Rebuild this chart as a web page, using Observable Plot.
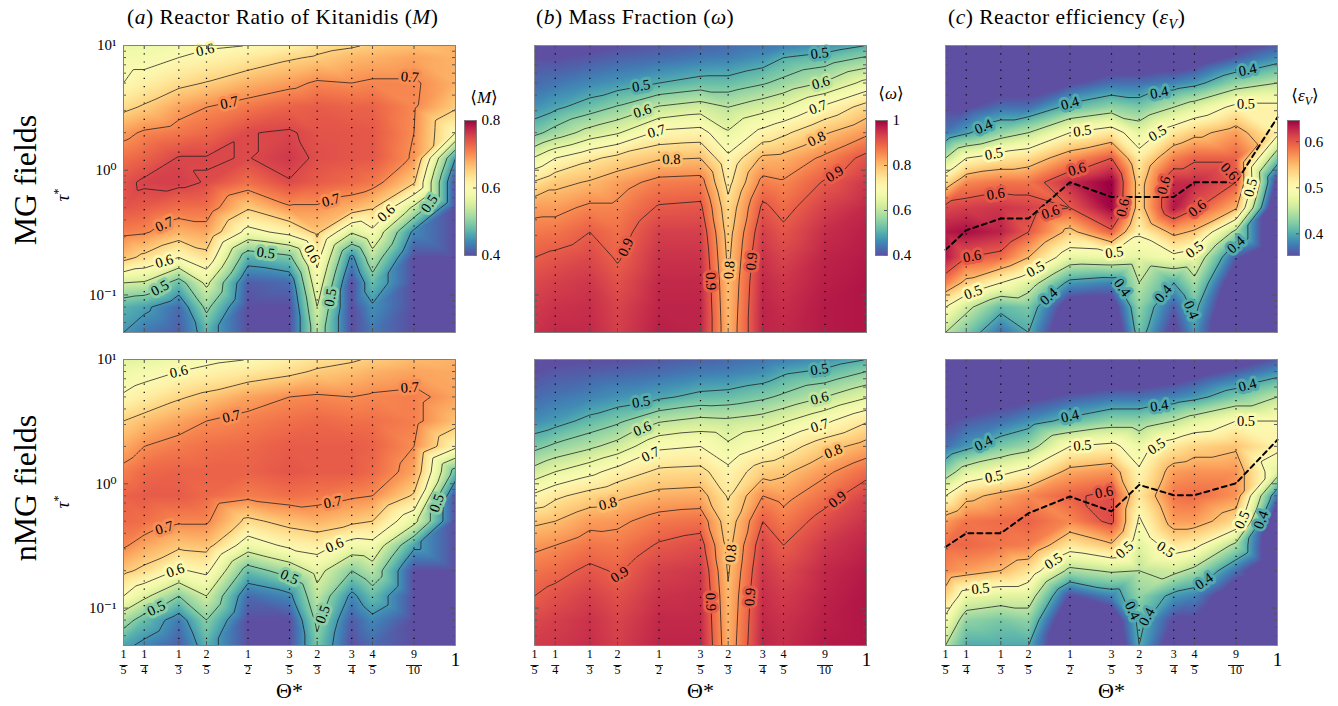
<!DOCTYPE html>
<html><head><meta charset="utf-8">
<script src="https://cdn.jsdelivr.net/npm/d3@7"></script>
<script src="https://cdn.jsdelivr.net/npm/@observablehq/plot@0.6"></script>
<style>
body{margin:0;background:#fff;}
#root{position:relative;width:1338px;height:706px;overflow:hidden;font-family:"Liberation Serif","DejaVu Serif",serif;color:#000;}
.abs{position:absolute;white-space:nowrap;line-height:1;}
.c{transform:translate(-50%,-50%);}
.rot{transform:translate(-50%,-50%) rotate(-90deg);}
.title{letter-spacing:0.5px;}
</style></head><body><div id="root"></div>
<script>
// ---------- data ----------
const thetaValues = [1/5, 1/4, 1/3, 2/5, 1/2, 3/5, 2/3, 3/4, 4/5, 9/10, 1];
const thetaNum = ["1","1","1","2","1","3","2","3","4","9","1"];
const thetaDen = ["5","4","3","5","2","5","3","4","5","10",""];
const tauValues = [10, 8, 5, 3.2, 2, 1.25, 0.8, 0.5, 0.32, 0.2, 0.125, 0.08, 0.05];
const yTickValues = [0.1, 1, 10];
const yTickLabels = ["10\u207B\u00B9", "10\u2070", "10\u00B9"];
const yMinorTicks = [0.05,0.06,0.07,0.08,0.09,0.2,0.3,0.4,0.5,0.6,0.7,0.8,0.9,2,3,4,5,6,7,8,9];

// columns per theta, rows follow tauValues (top -> bottom)
const M_MG = [
 [0.57,0.585,0.60,0.64,0.69,0.72,0.742,0.74,0.71,0.665,0.55,0.47,0.45],
 [0.575,0.585,0.617,0.655,0.705,0.73,0.755,0.735,0.705,0.64,0.545,0.458,0.43],
 [0.585,0.60,0.64,0.685,0.715,0.752,0.758,0.72,0.675,0.60,0.48,0.42,0.41],
 [0.595,0.61,0.652,0.70,0.725,0.752,0.748,0.72,0.685,0.635,0.56,0.51,0.47],
 [0.60,0.625,0.675,0.715,0.749,0.749,0.72,0.655,0.585,0.47,0.41,0.40,0.40],
 [0.615,0.645,0.69,0.73,0.753,0.762,0.748,0.695,0.615,0.49,0.42,0.40,0.40],
 [0.635,0.655,0.705,0.735,0.742,0.745,0.735,0.695,0.66,0.615,0.58,0.55,0.53],
 [0.645,0.67,0.70,0.73,0.74,0.74,0.725,0.675,0.555,0.44,0.40,0.40,0.40],
 [0.655,0.675,0.705,0.73,0.738,0.738,0.715,0.655,0.59,0.53,0.48,0.445,0.43],
 [0.665,0.685,0.705,0.703,0.70,0.695,0.655,0.54,0.44,0.40,0.40,0.40,0.40],
 [0.675,0.675,0.675,0.655,0.60,0.45,0.40,0.40,0.40,0.40,0.40,0.40,0.40]
];
const M_nMG = [
 [0.56,0.575,0.605,0.65,0.68,0.71,0.73,0.725,0.705,0.66,0.60,0.52,0.46],
 [0.565,0.585,0.62,0.665,0.70,0.725,0.735,0.72,0.685,0.64,0.56,0.48,0.44],
 [0.58,0.60,0.645,0.685,0.712,0.73,0.735,0.705,0.66,0.595,0.50,0.43,0.41],
 [0.59,0.61,0.66,0.70,0.72,0.73,0.725,0.705,0.665,0.61,0.55,0.50,0.47],
 [0.60,0.625,0.685,0.71,0.725,0.73,0.71,0.64,0.575,0.48,0.42,0.40,0.40],
 [0.62,0.64,0.70,0.72,0.735,0.74,0.72,0.665,0.61,0.52,0.44,0.40,0.40],
 [0.635,0.655,0.705,0.725,0.735,0.735,0.715,0.675,0.62,0.565,0.535,0.51,0.49],
 [0.645,0.665,0.70,0.72,0.735,0.735,0.705,0.66,0.58,0.50,0.44,0.41,0.40],
 [0.655,0.675,0.705,0.72,0.73,0.725,0.70,0.65,0.585,0.53,0.48,0.44,0.42],
 [0.67,0.685,0.71,0.71,0.70,0.685,0.645,0.565,0.46,0.40,0.40,0.40,0.40],
 [0.675,0.68,0.685,0.665,0.61,0.48,0.40,0.40,0.40,0.40,0.40,0.40,0.40]
];
const W_MG = [
 [0.38,0.40,0.43,0.47,0.535,0.655,0.755,0.835,0.87,0.90,0.925,0.94,0.95],
 [0.38,0.40,0.44,0.49,0.57,0.70,0.785,0.835,0.875,0.91,0.935,0.95,0.96],
 [0.39,0.41,0.46,0.525,0.62,0.74,0.805,0.86,0.90,0.925,0.945,0.955,0.96],
 [0.40,0.42,0.475,0.555,0.645,0.765,0.83,0.86,0.88,0.895,0.915,0.93,0.935],
 [0.41,0.43,0.50,0.605,0.71,0.795,0.865,0.905,0.935,0.95,0.96,0.965,0.97],
 [0.42,0.445,0.52,0.625,0.72,0.80,0.87,0.91,0.935,0.95,0.96,0.965,0.965],
 [0.43,0.45,0.52,0.60,0.655,0.71,0.735,0.765,0.78,0.79,0.80,0.805,0.81],
 [0.44,0.47,0.545,0.63,0.715,0.81,0.865,0.91,0.935,0.95,0.96,0.965,0.965],
 [0.45,0.50,0.565,0.65,0.74,0.815,0.855,0.885,0.91,0.93,0.945,0.955,0.96],
 [0.47,0.52,0.605,0.71,0.795,0.86,0.905,0.935,0.955,0.965,0.97,0.975,0.975],
 [0.50,0.555,0.665,0.77,0.84,0.915,0.945,0.96,0.97,0.975,0.98,0.98,0.98]
];
const W_nMG = [
 [0.385,0.40,0.43,0.465,0.535,0.62,0.71,0.79,0.84,0.875,0.90,0.925,0.94],
 [0.39,0.41,0.44,0.48,0.56,0.65,0.74,0.80,0.85,0.885,0.915,0.935,0.945],
 [0.40,0.415,0.455,0.515,0.59,0.685,0.77,0.835,0.875,0.91,0.935,0.95,0.955],
 [0.40,0.42,0.47,0.54,0.62,0.72,0.79,0.84,0.87,0.895,0.915,0.93,0.935],
 [0.41,0.43,0.49,0.595,0.69,0.76,0.815,0.87,0.905,0.935,0.95,0.96,0.965],
 [0.42,0.445,0.515,0.615,0.70,0.765,0.82,0.88,0.92,0.945,0.955,0.96,0.965],
 [0.43,0.45,0.52,0.61,0.66,0.715,0.745,0.77,0.785,0.795,0.805,0.81,0.815],
 [0.44,0.465,0.54,0.625,0.70,0.78,0.85,0.90,0.93,0.945,0.955,0.96,0.965],
 [0.45,0.49,0.56,0.645,0.725,0.79,0.835,0.87,0.90,0.925,0.94,0.95,0.955],
 [0.47,0.51,0.60,0.69,0.78,0.84,0.88,0.92,0.945,0.96,0.965,0.97,0.975],
 [0.50,0.55,0.645,0.745,0.82,0.885,0.93,0.95,0.965,0.975,0.98,0.98,0.98]
];
const E_MG = [
 [0.30,0.31,0.33,0.35,0.375,0.45,0.53,0.61,0.635,0.635,0.58,0.50,0.45],
 [0.29,0.30,0.32,0.35,0.395,0.50,0.575,0.615,0.64,0.60,0.54,0.46,0.42],
 [0.29,0.30,0.33,0.37,0.43,0.52,0.585,0.62,0.63,0.59,0.50,0.41,0.37],
 [0.28,0.30,0.33,0.37,0.45,0.53,0.585,0.615,0.60,0.55,0.47,0.42,0.40],
 [0.29,0.31,0.35,0.41,0.50,0.57,0.625,0.60,0.54,0.475,0.39,0.33,0.31],
 [0.30,0.32,0.37,0.43,0.52,0.60,0.648,0.645,0.595,0.48,0.38,0.33,0.31],
 [0.30,0.32,0.37,0.42,0.475,0.515,0.535,0.535,0.505,0.475,0.45,0.43,0.415],
 [0.30,0.32,0.38,0.45,0.52,0.58,0.625,0.635,0.56,0.49,0.40,0.36,0.34],
 [0.31,0.33,0.39,0.47,0.54,0.595,0.625,0.605,0.545,0.48,0.44,0.41,0.39],
 [0.34,0.36,0.43,0.51,0.565,0.595,0.60,0.555,0.44,0.36,0.32,0.30,0.30],
 [0.36,0.385,0.45,0.51,0.51,0.42,0.34,0.30,0.30,0.30,0.30,0.30,0.30]
];
const E_nMG = [
 [0.30,0.31,0.33,0.35,0.37,0.43,0.50,0.565,0.59,0.575,0.535,0.49,0.45],
 [0.30,0.31,0.33,0.36,0.39,0.47,0.54,0.585,0.592,0.565,0.48,0.43,0.40],
 [0.30,0.31,0.34,0.37,0.42,0.49,0.56,0.59,0.585,0.55,0.47,0.42,0.40],
 [0.30,0.31,0.345,0.385,0.435,0.51,0.575,0.595,0.58,0.525,0.47,0.43,0.40],
 [0.30,0.32,0.36,0.41,0.50,0.56,0.595,0.575,0.52,0.44,0.35,0.31,0.30],
 [0.30,0.32,0.37,0.43,0.51,0.57,0.608,0.608,0.545,0.455,0.38,0.32,0.30],
 [0.30,0.32,0.37,0.43,0.48,0.505,0.52,0.495,0.47,0.45,0.43,0.41,0.40],
 [0.31,0.33,0.38,0.45,0.52,0.565,0.585,0.565,0.52,0.46,0.39,0.35,0.33],
 [0.32,0.34,0.39,0.47,0.535,0.57,0.59,0.565,0.51,0.44,0.38,0.35,0.34],
 [0.335,0.36,0.42,0.50,0.545,0.57,0.57,0.53,0.44,0.37,0.32,0.30,0.30],
 [0.36,0.385,0.45,0.50,0.51,0.47,0.37,0.31,0.30,0.30,0.30,0.30,0.30]
];
// optimal tau (dashed line) per theta
const tauOpt_MG  = [0.23,0.33,0.41,0.41,0.80,0.61,0.61,0.61,0.80,0.80,2.66];
const tauOpt_nMG = [0.31,0.40,0.40,0.58,0.79,0.60,0.98,0.81,0.81,1.01,2.26];

const levelsM = [0.45,0.5,0.55,0.6,0.65,0.7,0.75];
const levelsW = [0.5,0.55,0.6,0.65,0.7,0.75,0.8,0.85,0.9];
const levelsE = [0.4,0.45,0.5,0.55,0.6];
const domainM = [0.4, 0.8], domainW = [0.4, 1], domainE = [0.353, 0.646];
const ticksM = [0.4,0.6,0.8], ticksW = [0.4,0.6,0.8,1], ticksE = [0.4,0.5,0.6];

// contour label anchors: [level, column index, log10 tau, search direction]
const labelsA1 = [[0.6,2.95,0.93,"v"],[0.7,3.55,0.57,"v"],[0.7,8.9,0.73,"v"],[0.7,6.4,-0.24,"v"],[0.7,1.58,-0.48,"v"],[0.6,1.58,-0.77,"v"],[0.5,1.45,-0.99,"v"],[0.6,8.33,-0.39,"v"],[0.5,9.37,-0.22,"v"],[0.5,4.43,-0.67,"v"],[0.6,5.6,-0.67,"h"],[0.5,6.25,-1.02,"h"]];
const labelsA2 = [[0.6,2.0,0.95,"v"],[0.7,3.6,0.55,"v"],[0.7,8.9,0.76,"v"],[0.7,6.45,-0.09,"v"],[0.7,1.58,-0.40,"v"],[0.6,1.9,-0.70,"v"],[0.5,1.35,-1.05,"v"],[0.5,5.0,-0.75,"v"],[0.6,6.5,-0.47,"v"],[0.5,6.2,-1.05,"h"],[0.5,9.55,-0.17,"v"]];
const labelsB1 = [[0.5,3.57,0.69,"v"],[0.5,8.87,0.96,"v"],[0.6,3.6,0.49,"v"],[0.6,8.9,0.75,"v"],[0.7,3.94,0.29,"v"],[0.7,8.83,0.51,"v"],[0.8,4.3,0.08,"v"],[0.8,8.8,0.27,"v"],[0.9,3.2,-0.60,"v"],[0.9,9.23,0.04,"v"],[0.9,5.45,-0.89,"h"],[0.8,6.05,-0.8,"h"],[0.9,6.63,-0.73,"h"]];
const labelsB2 = [[0.5,3.57,0.68,"v"],[0.5,8.87,0.95,"v"],[0.6,3.6,0.46,"v"],[0.6,8.87,0.73,"v"],[0.7,3.8,0.25,"v"],[0.7,8.87,0.48,"v"],[0.8,2.65,-0.16,"v"],[0.8,9.2,0.25,"v"],[0.9,3.05,-0.77,"v"],[0.9,9.3,-0.06,"v"],[0.8,6.0,-0.56,"h"],[0.9,5.45,-0.95,"h"],[0.9,6.6,-0.91,"h"]];
const labelsC1 = [[0.4,1.5,0.35,"v"],[0.4,4.0,0.56,"v"],[0.4,6.58,0.64,"v"],[0.4,9.28,0.81,"v"],[0.5,1.8,0.14,"v"],[0.5,4.3,0.36,"v"],[0.5,6.53,0.33,"v"],[0.5,9.24,0.53,"v"],[0.6,1.85,-0.12,"v"],[0.6,4.17,0.05,"v"],[0.6,5.16,-0.30,"h"],[0.6,6.87,-0.12,"h"],[0.6,8.84,0.12,"v"],[0.6,8.07,-0.23,"v"],[0.6,3.53,-0.35,"v"],[0.6,1.17,-0.70,"v"],[0.5,1.2,-1.0,"v"],[0.5,3.17,-0.83,"v"],[0.4,3.49,-1.05,"v"],[0.5,5.1,-0.67,"v"],[0.5,8.0,-0.63,"v"],[0.4,5.28,-0.94,"h"],[0.4,6.34,-0.99,"h"],[0.4,7.9,-1.12,"h"],[0.4,9.0,-0.55,"v"],[0.5,9.36,-0.14,"h"]];
const labelsC2 = [[0.4,1.5,0.30,"v"],[0.4,4.0,0.52,"v"],[0.4,6.58,0.61,"v"],[0.4,9.28,0.79,"v"],[0.5,1.8,0.11,"v"],[0.5,4.3,0.30,"v"],[0.5,6.5,0.27,"v"],[0.5,9.24,0.46,"v"],[0.6,4.82,-0.12,"v"],[0.5,5.52,-0.53,"h"],[0.5,6.77,-0.55,"v"],[0.5,9.12,-0.29,"h"],[0.5,3.6,-0.70,"v"],[0.5,1.41,-0.96,"v"],[0.4,5.28,-1.02,"h"],[0.4,6.38,-1.07,"h"],[0.4,8.23,-0.92,"v"],[0.4,9.48,-0.29,"h"]];

// ---------- helpers ----------
const SERIF = "Liberation Serif, DejaVu Serif, serif";
const logT = tauValues.map(Math.log10);
const root = document.getElementById("root");
// horizontal-bar symbol for fraction lines (half width = r)
const barSymbol = {draw(ctx, size){const w=Math.sqrt(size/Math.PI);ctx.moveTo(-w,0);ctx.lineTo(w,0);}};

function colX(c){const i0=Math.max(0,Math.min(9,Math.floor(c)));const f=c-i0;return thetaValues[i0]+(thetaValues[i0+1]-thetaValues[i0])*f;}
function colProfile(g,c){const i0=Math.max(0,Math.min(9,Math.floor(c)));const f=c-i0;return g[i0].map((v,j)=>v+(g[i0+1][j]-v)*f);}
function crossCol(g,lv,c,L){const p=colProfile(g,c);let best=null;
  for(let j=0;j<p.length-1;j++){const a=p[j]-lv,b=p[j+1]-lv;if(a===b)continue;
    if((a<=0&&b>0)||(a>0&&b<=0)){const Lc=logT[j]+(logT[j+1]-logT[j])*(a/(a-b));if(best===null||Math.abs(Lc-L)<Math.abs(best-L))best=Lc;}}
  return best;}
function rowProfile(g,L){let j=0;while(j<logT.length-2&&logT[j+1]>L)j++;const f=(L-logT[j])/(logT[j+1]-logT[j]);return g.map(col=>col[j]+(col[j+1]-col[j])*f);}
function crossRow(g,lv,L,c){const p=rowProfile(g,L);let best=null;
  for(let i=0;i<p.length-1;i++){const a=p[i]-lv,b=p[i+1]-lv;if(a===b)continue;
    if((a<=0&&b>0)||(a>0&&b<=0)){const ci=i+a/(a-b);if(best===null||Math.abs(ci-c)<Math.abs(best-c))best=ci;}}
  return best;}
function placeLabel(g,[lv,c,L,dir],xs,ys){
  const P=(cc,LL)=>[xs.apply(colX(cc)),ys.apply(10**LL)];
  let c0=c,L0=L,p1,p2;
  if(dir==="h"){const cc=crossRow(g,lv,L,c);if(cc===null)return null;c0=cc;
    const a=crossRow(g,lv,L+0.06,cc),b=crossRow(g,lv,L-0.06,cc);p1=P(a??cc,L+0.06);p2=P(b??cc,L-0.06);}
  else{const LL=crossCol(g,lv,c,L);if(LL===null)return null;L0=LL;
    const a=crossCol(g,lv,c-0.15,LL),b=crossCol(g,lv,c+0.15,LL);p1=P(c-0.15,a??LL);p2=P(c+0.15,b??LL);}
  let r=Math.atan2(p2[1]-p1[1],p2[0]-p1[0])*180/Math.PI;if(r>90)r-=180;if(r<-90)r+=180;
  return {x:colX(c0),t:10**L0,s:String(lv),lv,r};
}
function place(el,left,top){el.style.position="absolute";el.style.left=left+"px";el.style.top=top+"px";root.appendChild(el);}

function panel({grid,domain,levels,labels,opt,frameLeft,frameTop,H,showY,showX}){
  const W=332,ml=48,mr=6,mt=6,mb=showX?66:6;
  const data=grid.flatMap((col,i)=>col.map((v,j)=>({x:thetaValues[i],t:tauValues[j],v})));
  const xs=Plot.scale({x:{domain:[0.2,1],range:[ml,ml+W]}});
  const ys=Plot.scale({y:{type:"log",domain:[0.05,10],range:[mt+H,mt]}});
  const lab=labels.map(s=>placeLabel(grid,s,xs,ys)).filter(Boolean);
  const inner=thetaValues.slice(1,-1);
  const marks=[
    Plot.raster(data,{x:"x",y:"t",fill:"v",interpolate:"barycentric",pixelSize:1}),
    Plot.ruleX(inner,{stroke:"#000",strokeWidth:1.2,strokeDasharray:"1.2,7"}),
    Plot.contour(data,{x:"x",y:"t",value:"v",interpolate:"barycentric",pixelSize:1,thresholds:levels,stroke:"#1c1c1c",strokeWidth:0.75,fill:"none"})
  ];
  if(opt) marks.push(Plot.line(thetaValues.map((x,i)=>({x,t:opt[i]})),{x:"x",y:"t",stroke:"#000",strokeWidth:2,strokeDasharray:"5,4"}));
  marks.push(Plot.text(lab,{x:"x",y:"t",text:"s",rotate:"r",fill:"#000",stroke:"lv",strokeWidth:6,strokeLinejoin:"round",paintOrder:"stroke",fontSize:14.5,fontFamily:SERIF}));
  marks.push(
    Plot.tickX(inner,{x:d=>d,insetTop:H-4,stroke:"#555"}),
    Plot.tickX(inner,{x:d=>d,insetBottom:H-4,stroke:"#555"}),
    Plot.tickY(yMinorTicks,{y:d=>d,insetRight:W-3,stroke:"#555"}),
    Plot.tickY(yMinorTicks,{y:d=>d,insetLeft:W-3,stroke:"#555"}),
    Plot.tickY(yTickValues,{y:d=>d,insetRight:W-5,stroke:"#555"}),
    Plot.tickY(yTickValues,{y:d=>d,insetLeft:W-5,stroke:"#555"}),
    Plot.frame({stroke:"#8a8a8a",strokeWidth:0.9})
  );
  if(showY) marks.push(Plot.text(yTickValues,{y:d=>d,text:(d,i)=>yTickLabels[i],frameAnchor:"left",dx:-7,textAnchor:"end",fontSize:15,fontFamily:SERIF}));
  if(showX){
    const fr=thetaValues.map((v,i)=>({v,n:thetaNum[i],d:thetaDen[i]}));
    const f2=fr.filter(f=>f.d), f1=fr.filter(f=>!f.d);
    marks.push(
      Plot.text(f2,{x:"v",text:"n",frameAnchor:"bottom",dy:12,fontSize:12,fontFamily:SERIF}),
      Plot.dot(f2.filter(f=>f.d.length===1),{x:"v",frameAnchor:"bottom",dy:20,r:4,symbol:barSymbol,stroke:"#000",fill:"none",strokeWidth:0.9}),
      Plot.dot(f2.filter(f=>f.d.length===2),{x:"v",frameAnchor:"bottom",dy:20,r:8,symbol:barSymbol,stroke:"#000",fill:"none",strokeWidth:0.9}),
      Plot.text(f2,{x:"v",text:"d",frameAnchor:"bottom",dy:28,fontSize:12,fontFamily:SERIF}),
      Plot.text(f1,{x:"v",text:"n",frameAnchor:"bottom",dy:20,fontSize:19,fontFamily:SERIF}),
      Plot.text(["\u0398*"],{text:d=>d,frameAnchor:"bottom",dy:52,fontSize:22,fontFamily:SERIF})
    );
  }
  const p=Plot.plot({width:W+ml+mr,height:H+mt+mb,marginLeft:ml,marginRight:mr,marginTop:mt,marginBottom:mb,
    x:{domain:[0.2,1],axis:null},y:{type:"log",domain:[0.05,10],axis:null},
    color:{type:"linear",scheme:"spectral",reverse:true,domain,clamp:true},
    style:{background:"transparent",overflow:"visible"},marks});
  place(p,frameLeft-ml,frameTop-mt);
}

function colorbar({domain,ticks,left,top}){
  const W=12,H=135,ml=1,mr=44,mt=10,mb=10;
  const p=Plot.plot({width:W+ml+mr,height:H+mt+mb,marginLeft:ml,marginRight:mr,marginTop:mt,marginBottom:mb,
    x:{domain:[0,1],axis:null},y:{domain,axis:null},
    color:{type:"linear",scheme:"spectral",reverse:true,domain,clamp:true},
    style:{background:"transparent",overflow:"visible"},
    marks:[
      Plot.raster({x1:0,x2:1,y1:domain[0],y2:domain[1],fill:(x,y)=>y,pixelSize:1}),
      Plot.tickY(ticks,{y:d=>d,insetLeft:W-3,stroke:"#555"}),
      Plot.frame({stroke:"#777",strokeWidth:0.9}),
      Plot.text(ticks,{y:d=>d,text:d=>String(d),frameAnchor:"right",dx:5,textAnchor:"start",fontSize:15,fontFamily:SERIF})
    ]});
  place(p,left-ml,top-mt);
}

function html(s,left,top,size,cls){const d=document.createElement("div");d.className="abs "+(cls||"");d.innerHTML=s;d.style.left=left+"px";d.style.top=top+"px";d.style.fontSize=size+"px";root.appendChild(d);}

// ---------- layout ----------
const fl=[122.5,533.5,945];
panel({grid:M_MG,domain:domainM,levels:levelsM,labels:labelsA1,frameLeft:fl[0],frameTop:45,H:287,showY:true});
panel({grid:W_MG,domain:domainW,levels:levelsW,labels:labelsB1,frameLeft:fl[1],frameTop:45,H:287});
panel({grid:E_MG,domain:domainE,levels:levelsE,labels:labelsC1,opt:tauOpt_MG,frameLeft:fl[2],frameTop:45,H:287});
panel({grid:M_nMG,domain:domainM,levels:levelsM,labels:labelsA2,frameLeft:fl[0],frameTop:359,H:286,showY:true,showX:true});
panel({grid:W_nMG,domain:domainW,levels:levelsW,labels:labelsB2,frameLeft:fl[1],frameTop:359,H:286,showX:true});
panel({grid:E_nMG,domain:domainE,levels:levelsE,labels:labelsC2,opt:tauOpt_nMG,frameLeft:fl[2],frameTop:359,H:286,showX:true});

colorbar({domain:domainM,ticks:ticksM,left:464,top:120});
colorbar({domain:domainW,ticks:ticksW,left:875,top:120});
colorbar({domain:domainE,ticks:ticksE,left:1287,top:120});

html("(<i>a</i>) Reactor Ratio of Kitanidis (<i>M</i>)",127,7,21.5,"title");
html("(<i>b</i>) Mass Fraction (<i>\u03C9</i>)",536,7,21.5,"title");
html("(<i>c</i>) Reactor efficiency (<i>\u03B5<sub style='font-size:14px'>V</sub></i>)",948,7,21.5,"title");
html("\u27E8<i>M</i>\u27E9",484,97,17,"c");
html("\u27E8<i>\u03C9</i>\u27E9",891,93,17,"c");
html("\u27E8<i>\u03B5<sub style='font-size:12px'>V</sub></i>\u27E9",1305,97,17,"c");
html("MG fields",25,180,32,"rot");
html("nMG fields",25,488,32,"rot");
html("<i>\u03C4</i><sup style='font-size:12px'>*</sup>",62,195,19,"rot");
html("<i>\u03C4</i><sup style='font-size:12px'>*</sup>",62,502,19,"rot");
</script></body></html>
